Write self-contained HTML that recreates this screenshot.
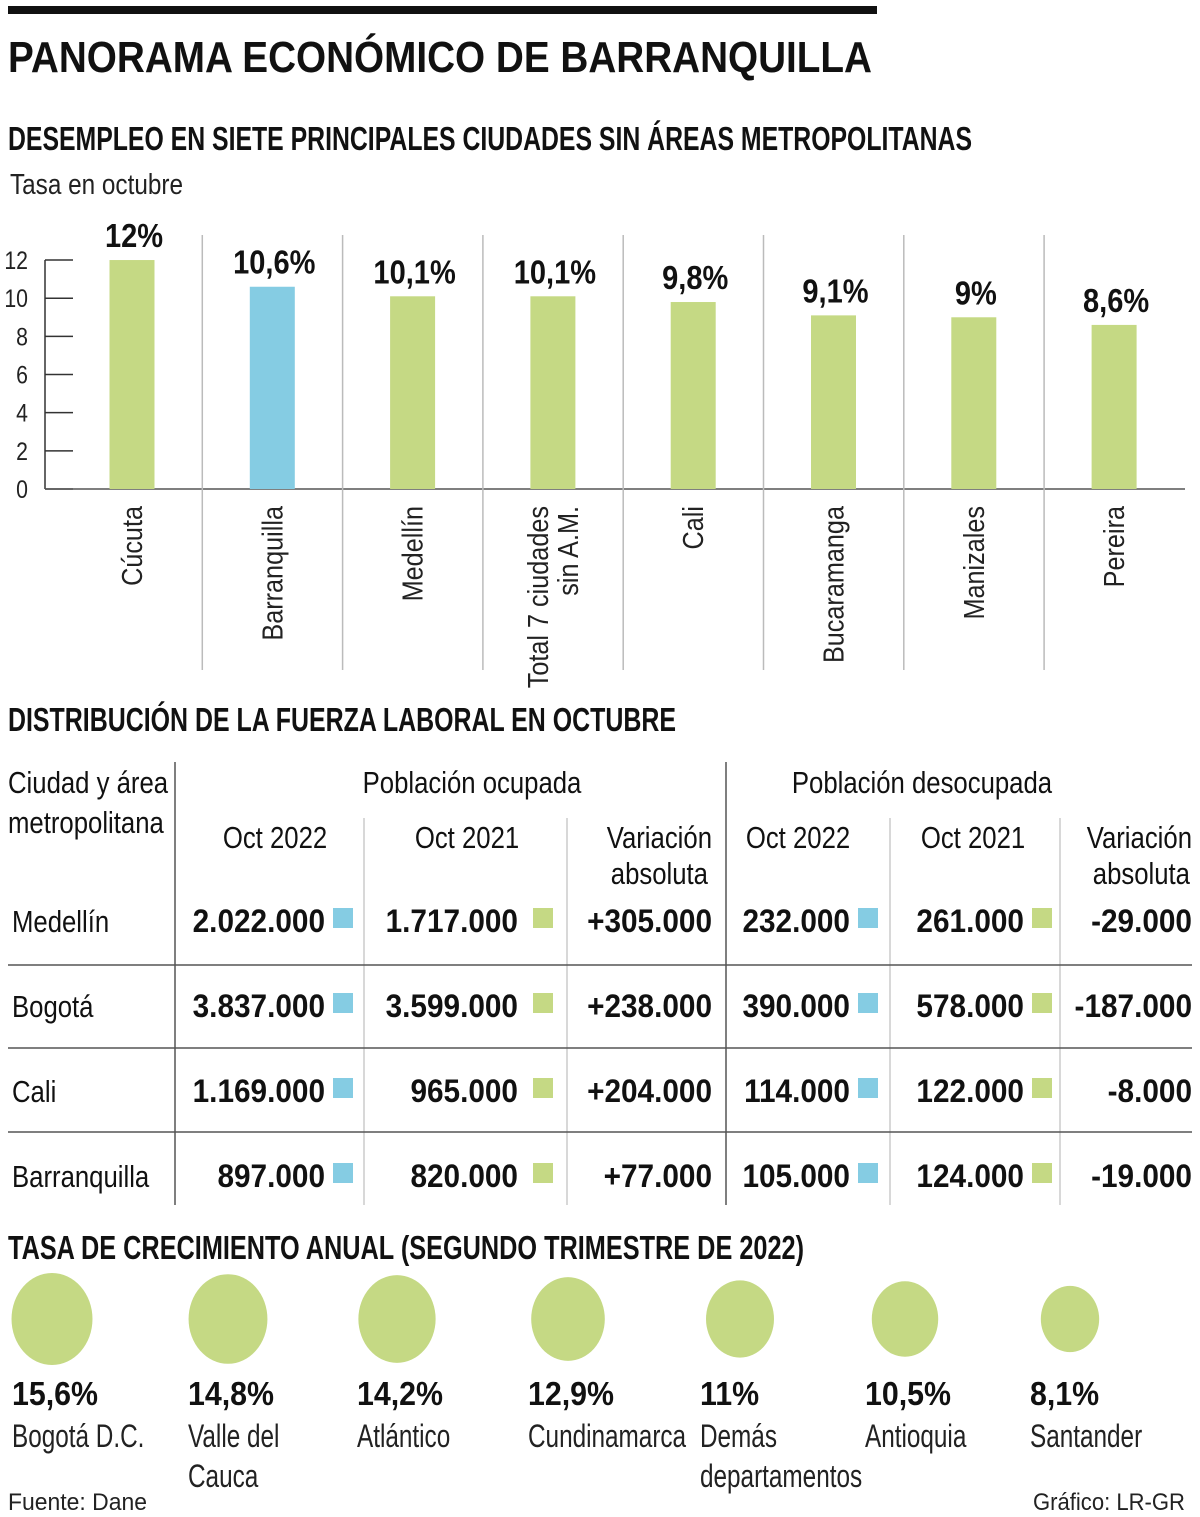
<!DOCTYPE html>
<html><head><meta charset="utf-8"><style>
html,body{margin:0;padding:0;background:#fff;}
svg{display:block;font-family:"Liberation Sans Narrow","Liberation Sans",sans-serif;}
.b{font-weight:bold;}
</style></head><body>
<svg id="s" width="1200" height="1517" viewBox="0 0 1200 1517" xmlns="http://www.w3.org/2000/svg">
<rect x="8" y="6" width="869" height="8" fill="#111"/>
<text x="8" y="72" class="b" font-size="44" textLength="864" lengthAdjust="spacingAndGlyphs" fill="#111">PANORAMA ECONÓMICO DE BARRANQUILLA</text>
<text x="8" y="150" class="b" font-size="33" textLength="964" lengthAdjust="spacingAndGlyphs" fill="#111">DESEMPLEO EN SIETE PRINCIPALES CIUDADES SIN ÁREAS METROPOLITANAS</text>
<text x="10" y="194" font-size="29" textLength="173" lengthAdjust="spacingAndGlyphs" fill="#222">Tasa en octubre</text>
<g id="bars"></g>
<text x="8" y="731" class="b" font-size="33" textLength="668" lengthAdjust="spacingAndGlyphs" fill="#111">DISTRIBUCIÓN DE LA FUERZA LABORAL EN OCTUBRE</text>
<g id="table"></g>
<text x="8" y="1259" class="b" font-size="33" textLength="796" lengthAdjust="spacingAndGlyphs" fill="#111">TASA DE CRECIMIENTO ANUAL (SEGUNDO TRIMESTRE DE 2022)</text>
<g id="bubbles"></g>
<text x="8" y="1510" font-size="24" textLength="139" lengthAdjust="spacingAndGlyphs" fill="#222">Fuente: Dane</text>
<text x="1033" y="1510" font-size="24" textLength="152" lengthAdjust="spacingAndGlyphs" fill="#222">Gráfico: LR-GR</text>
</svg>
<script>
const NS='http://www.w3.org/2000/svg';
const barCities=['Cúcuta','Barranquilla','Medellín','Total 7 ciudades|sin A.M.','Cali','Bucaramanga','Manizales','Pereira'];
const barValues=[12,10.6,10.1,10.1,9.8,9.1,9,8.6];
const barLabels=['12%','10,6%','10,1%','10,1%','9,8%','9,1%','9%','8,6%'];
const yTicks=[0,2,4,6,8,10,12];
const tableCities=['Medellín','Bogotá','Cali','Barranquilla'];
const occ2022=['2.022.000','3.837.000','1.169.000','897.000'];
const occ2021=['1.717.000','3.599.000','965.000','820.000'];
const occVar=['+305.000','+238.000','+204.000','+77.000'];
const unemp2022=['232.000','390.000','114.000','105.000'];
const unemp2021=['261.000','578.000','122.000','124.000'];
const unempVar=['-29.000','-187.000','-8.000','-19.000'];
const growthRegions=['Bogotá D.C.','Valle del|Cauca','Atlántico','Cundinamarca','Demás|departamentos','Antioquia','Santander'];
const growthValues=[15.6,14.8,14.2,12.9,11,10.5,8.1];
const growthLabels=['15,6%','14,8%','14,2%','12,9%','11%','10,5%','8,1%'];
const GREEN='#c5d984',BLUE='#85cce3';
function mk(tag,attrs,parent,txt){const e=document.createElementNS(NS,tag);for(const k in attrs)e.setAttribute(k,attrs[k]);if(txt!==undefined)e.textContent=txt;parent.appendChild(e);return e;}
function sq(el,k){const x=+el.getAttribute('x');el.setAttribute('transform',`translate(${x} 0) scale(${k} 1) translate(${-x} 0)`);return el;}
// bar chart
const bars=document.getElementById('bars');
const y0=489,unit=19.08;
const yS=v=>y0-v*unit;
const xC=i=>132+i*140.3;
const ya=mk('line',{x1:45,y1:260,x2:45,y2:y0,stroke:'#333','stroke-width':1.5},bars);


for(const t of yTicks){
  const l=mk('line',{x1:45,y1:yS(t),x2:73,y2:yS(t),stroke:'#333','stroke-width':1.5},bars);
  
  
  const tx=sq(mk('text',{x:28,y:yS(t)+9,'font-size':25,'text-anchor':'end',fill:'#222'},bars,String(t)),0.85);
  
  
}
const base=mk('line',{x1:45,y1:y0,x2:1185,y2:y0,stroke:'#555','stroke-width':1.5},bars);


for(let i=1;i<barCities.length;i++){
  const sx=xC(i)-70;
  const l=mk('line',{x1:sx,y1:235,x2:sx,y2:670,stroke:'#bbb','stroke-width':1.5},bars);
  
  
}
barValues.forEach((v,i)=>{
  const r=mk('rect',{x:xC(i)-22.5,y:yS(v),width:45,height:v*unit,fill:i===1?BLUE:GREEN},bars);
  
  
  const t=sq(mk('text',{x:xC(i)+2,y:yS(v)-13,'font-size':33,'font-weight':'bold','text-anchor':'middle',fill:'#111'},bars,barLabels[i]),0.88);
  
  
  const lines=barCities[i].split('|');
  lines.forEach((ln,j)=>{
    const xx=xC(i)+10+(j-(lines.length-1)/2)*30;
    const c=mk('text',{x:xx,y:506,'font-size':29,'text-anchor':'end',fill:'#222',transform:`rotate(-90 ${xx} 506) translate(${xx} 0) scale(0.87 1) translate(${-xx} 0)`},bars,ln);
    
    
  });
});
// table
const tb=document.getElementById('table');
function line(x1,y1,x2,y2,c,n){const l=mk('line',{x1,y1,x2,y2,stroke:c,'stroke-width':1.5},tb);}
line(175,762,175,1205,'#555','table-divider');line(726,762,726,1205,'#555','table-divider');
[364,567,890,1060].forEach(x=>line(x,818,x,1205,'#ccc','table-subdivider'));
[965,1048,1132].forEach(y=>line(8,y,1192,y,'#555','row-divider'));
function txt(x,y,s,size,anchor,bold,n){const t=mk('text',{x,y,'font-size':size,'text-anchor':anchor,fill:'#111','font-weight':bold?'bold':'normal'},tb,s);sq(t,bold?0.93:0.83);return t;}
txt(8,793,'Ciudad y área',31,'start',false,'header-city');
txt(8,833,'metropolitana',31,'start',false,'header-city');
txt(472,793,'Población ocupada',31,'middle',false,'header-employed');
txt(922,793,'Población desocupada',31,'middle',false,'header-unemployed');
txt(275,848,'Oct 2022',31,'middle',false,'header-oct-2022');
txt(467,848,'Oct 2021',31,'middle',false,'header-oct-2021');
txt(712,848,'Variación',31,'end',false,'header-variation');txt(708,884,'absoluta',31,'end',false,'header-variation');
txt(798,848,'Oct 2022',31,'middle',false,'header-oct-2022');
txt(973,848,'Oct 2021',31,'middle',false,'header-oct-2021');
txt(1192,848,'Variación',31,'end',false,'header-variation');txt(1190,884,'absoluta',31,'end',false,'header-variation');
const cols=[[occ2022,325,333,BLUE],[occ2021,518,533,GREEN],[occVar,712,null],[unemp2022,850,858,BLUE],[unemp2021,1024,1032,GREEN],[unempVar,1192,null]];
tableCities.forEach((c,r)=>{
  const y=932+r*85;
  txt(12,y,c,31,'start',false,'row-city-label');
  cols.forEach(([arr,xe,sqx,col])=>{
    txt(xe,y,arr[r],32,'end',true,'table-value');
    if(sqx!==null){const s=mk('rect',{x:sqx,y:y-24,width:20,height:20,fill:col},tb);}
  });
});
// bubbles
const bb=document.getElementById('bubbles');
const bx=[52,228,397,568,740,905,1070];
growthValues.forEach((v,i)=>{
  const ry=46*Math.sqrt(v/growthValues[0]);
  const e=mk('ellipse',{cx:bx[i],cy:1319,rx:ry*0.88,ry:ry,fill:GREEN},bb);
  
  
  const lx=bx[i]-40;
  const t=sq(mk('text',{x:lx,y:1405,'font-size':33,'font-weight':'bold',fill:'#111'},bb,growthLabels[i]),0.92);
  
  
  growthRegions[i].split('|').forEach((ln,j)=>{
    const n=sq(mk('text',{x:lx,y:1447+j*40,'font-size':32,fill:'#222'},bb,ln),0.76);
    
    
  });
});
</script>
</body></html>
